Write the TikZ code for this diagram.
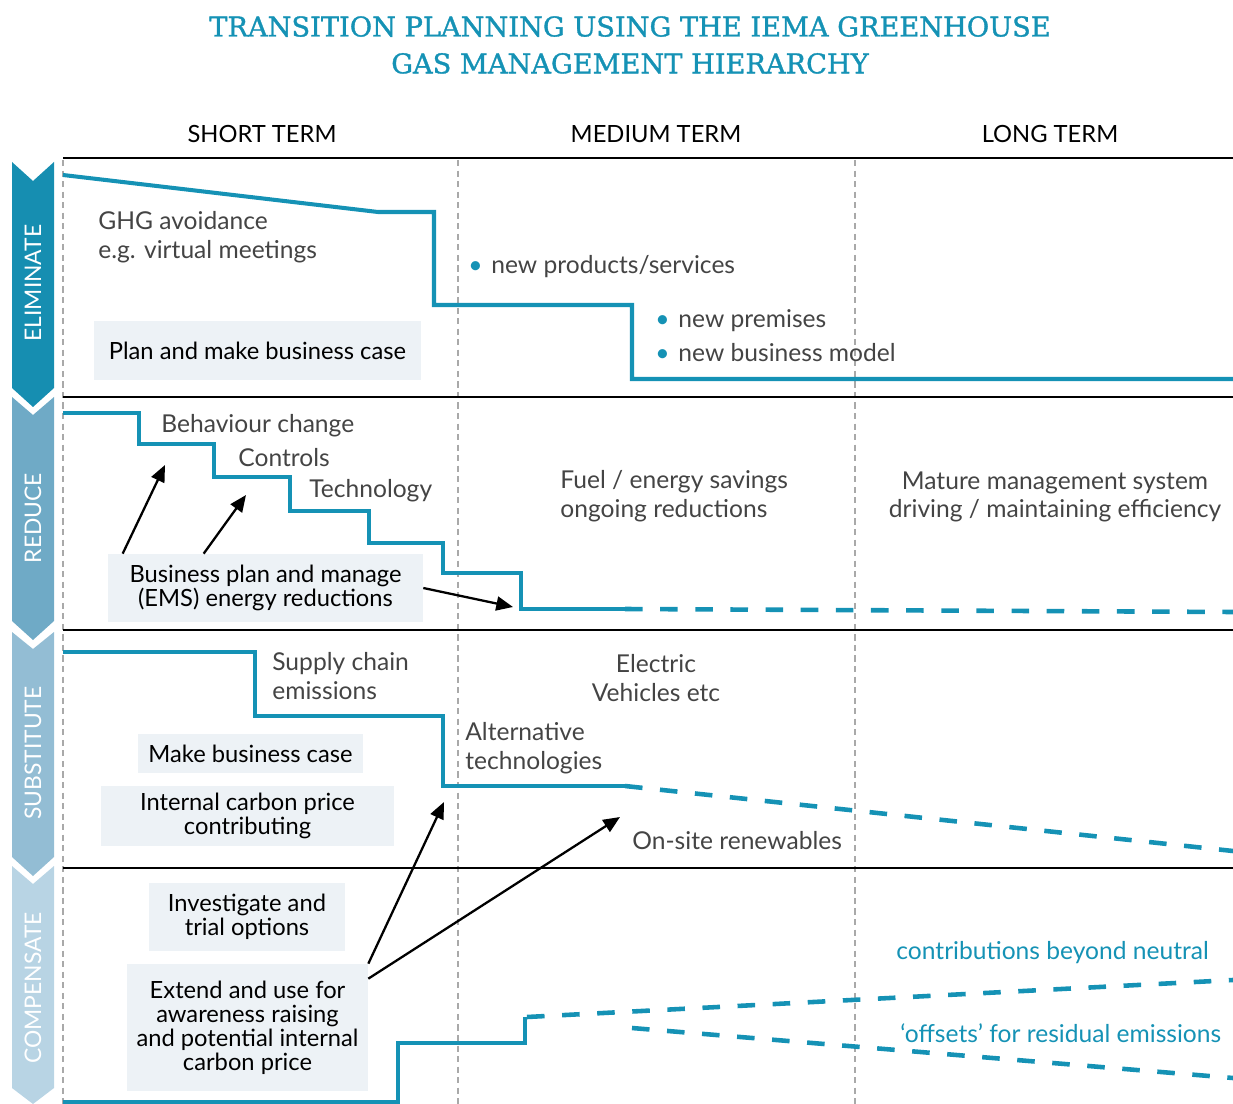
\documentclass[tikz,border=0pt]{standalone}
\usepackage{fontspec}
\setmainfont{Lato}
\newfontfamily\slabfont{DejaVu Serif}[FakeBold=1.2]
\usetikzlibrary{arrows.meta}
\definecolor{GHTeal}  {HTML}{1592B5}
\definecolor{GHElim}  {HTML}{168EB1}
\definecolor{GHRed}   {HTML}{6FAAC6}
\definecolor{GHSub}   {HTML}{93BDD4}
\definecolor{GHComp}  {HTML}{B8D4E4}
\definecolor{GHBox}   {HTML}{EDF2F6}
\definecolor{GHText}  {HTML}{444444}
\definecolor{GHGrid}  {HTML}{A9A9A9}

\tikzset{
  band/.style={font=\fontsize{13}{15}\selectfont,text=white,rotate=90},
  term/.style={font=\fontsize{13.5}{15}\selectfont,text=black},
  actbox/.style={fill=GHBox,font=\fontsize{13.5}{13.6}\selectfont,text=black,align=center,inner sep=0pt},
  note/.style={font=\fontsize{14}{16.4}\selectfont,text=GHText,align=left,anchor=west,inner xsep=0pt},
  tealnote/.style={note,text=GHTeal},
  route/.style={GHTeal,line width=2.3pt,line join=miter},
  future/.style={GHTeal,line width=2.6pt,dash pattern=on 10pt off 10pt},
  pointer/.style={-{Triangle[length=9.5pt,width=8pt]},line width=1.3pt},
}

\begin{document}
\begin{tikzpicture}[x=0.02cm,y=-0.02cm]
    \useasboundingbox (0,0) rectangle (1233,1104);

    % Title
    \node[font=\slabfont\fontsize{15.5}{21}\selectfont,text=GHTeal,align=center] (title) at (630,45)
      {TRANSITION PLANNING USING THE IEMA GREENHOUSE\\GAS MANAGEMENT HIERARCHY};

    % Column heads
    \node[term] (short)  at (262,134)  {SHORT TERM};
    \node[term] (medium) at (656,134)  {MEDIUM TERM};
    \node[term] (long)   at (1050,134) {LONG TERM};

    % Grid
    \draw[GHGrid,line width=0.6pt,dash pattern=on 3.5pt off 2.5pt] (63,160) -- (63,1104);
    \draw[GHGrid,line width=0.6pt,dash pattern=on 3.5pt off 2.5pt] (458,160) -- (458,1104);
    \draw[GHGrid,line width=0.6pt,dash pattern=on 3.5pt off 2.5pt] (855,160) -- (855,1104);
    \draw[line width=1.2pt] (63,158) -- (1233,158);
    \draw[line width=1.2pt] (63,397) -- (1233,397);
    \draw[line width=1.2pt] (63,630) -- (1233,630);
    \draw[line width=1.2pt] (63,868) -- (1233,868);

    % Hierarchy chevrons
    \fill[GHElim] (12,162) -- (33,181) -- (54,162) -- (54,388) -- (33,407) -- (12,388) -- cycle;
    \node[band] (elim) at (33,283) {ELIMINATE};
    \fill[GHRed]  (12,397) -- (33,415) -- (54,397) -- (54,621) -- (33,640) -- (12,621) -- cycle;
    \node[band] (red)  at (33,518) {REDUCE};
    \fill[GHSub]  (12,632) -- (33,649) -- (54,632) -- (54,857) -- (33,876) -- (12,857) -- cycle;
    \node[band] (sub)  at (33,753) {SUBSTITUTE};
    \fill[GHComp] (12,866) -- (33,884) -- (54,866) -- (54,1088) -- (33,1104) -- (12,1088) -- cycle;
    \node[band] (comp) at (33,988) {COMPENSATE};

    % Eliminate
    \draw[route] (63,175) -- (378,212) -- (434,212) -- (434,305) -- (632,305) -- (632,379) -- (1233,379);
    \node[note] (ghg) at (98,237) {GHG avoidance\\e.g. virtual meetings};
    \node[note] (newprod) at (468,267) {{\color{GHTeal}•}\hspace{5pt}new products/services};
    \node[note] (newprem) at (655,336) {{\color{GHTeal}•}\hspace{5pt}new premises\\[2.9pt]{\color{GHTeal}•}\hspace{5pt}new business model};
    \node[actbox,minimum width=6.54cm,minimum height=1.18cm] (plancase) at (257.5,350.5) {Plan and make business case};

    % Reduce
    \draw[route] (63,413) -- (139,413) -- (139,444) -- (214,444) -- (214,477) -- (290,477) -- (290,511)
      -- (369,511) -- (369,543) -- (443,543) -- (443,573) -- (521,573) -- (521,609) -- (625,609);
    \draw[future] (625,609) -- (1233,612);
    \node[note] (behav)  at (161,426) {Behaviour change};
    \node[note] (ctrl)   at (238,458) {Controls};
    \node[note] (tech)   at (309,491) {Technology};
    \node[note] (fuel)   at (560,496) {Fuel / energy savings\\ongoing reductions};
    \node[note,align=center,anchor=center] (mature) at (1055,497) {Mature management system\\driving / maintaining efficiency};
    \node[actbox,minimum width=6.3cm,minimum height=1.36cm] (bizplan) at (265.5,588) {Business plan and manage\\(EMS) energy reductions};
    \coordinate (behavtip) at (165,465);
    \coordinate (ctrltip)  at (246,495);
    \coordinate (steptip)  at (513,607);
    \draw[pointer] ([xshift=0.3cm]bizplan.north west) -- (behavtip);
    \draw[pointer] ([xshift=1.92cm]bizplan.north west) -- (ctrltip);
    \draw[pointer] (bizplan.east) -- (steptip);

    % Substitute
    \draw[route] (63,652) -- (255,652) -- (255,716) -- (443,716) -- (443,786) -- (625,786);
    \draw[future] (625,786) -- (1233,851);
    \node[note] (supply) at (272,676) {Supply chain\\emissions};
    \node[note,align=center,anchor=center] (ev) at (656,678) {Electric\\Vehicles etc};
    \node[note] (alttech) at (465,748) {Alternative\\technologies};
    \node[note] (onsite)  at (632,841) {On-site renewables};
    \node[actbox,minimum width=4.5cm,minimum height=0.78cm] (makecase) at (250.5,753.5) {Make business case};
    \node[actbox,minimum width=5.86cm,minimum height=1.2cm] (carbon) at (247.5,816) {Internal carbon price\\contributing};

    % Compensate
    \draw[route] (63,1102) -- (398,1102) -- (398,1043) -- (525,1043) -- (525,1017);
    \draw[future] (527,1017) -- (1233,980);
    \draw[future] (632,1028) -- (1233,1078);
    \node[tealnote] (beyond)  at (896,953)  {contributions beyond neutral};
    \node[tealnote] (offsets) at (900,1033) {‘offsets’ for residual emissions};
    \node[actbox,minimum width=3.92cm,minimum height=1.36cm] (trial) at (247,917) {Investigate and\\trial options};
    \node[actbox,minimum width=4.82cm,minimum height=2.54cm] (extend) at (247.5,1027.5)
      {Extend and use for\\awareness raising\\and potential internal\\carbon price};
    \coordinate (alttip)   at (444,802);
    \coordinate (renewtip) at (620,817);
    \draw[pointer] (extend.north east) -- (alttip);
    \draw[pointer] ([yshift=-0.3cm]extend.north east) -- (renewtip);
  \end{tikzpicture}
\end{document}
